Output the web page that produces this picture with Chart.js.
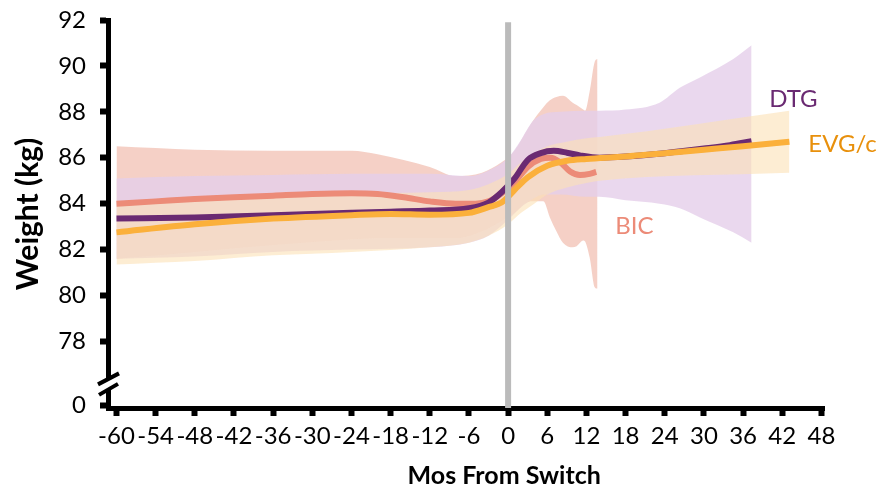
<!DOCTYPE html>
<html>
<head>
<meta charset="utf-8">
<script src="https://cdn.jsdelivr.net/npm/chart.js@4.4.1/dist/chart.umd.min.js"></script>
<style>
  html, body { margin: 0; padding: 0; background: #fff; }
  canvas { display: block; }
</style>
</head>
<body>
<canvas id="chart" width="879" height="490"></canvas>
<script>
// x axis: months from switch
const xTicks = [-60, -54, -48, -42, -36, -30, -24, -18, -12, -6, 0, 6, 12, 18, 24, 30, 36, 42, 48];
const xMin = -61.3;
const xMax = 48.4;
const xTitle = 'Mos From Switch';
const xTitleAt = -0.6;   // month value the title is centred on

// y axis (broken: 0 shown below 78)
const yTicks = [78, 80, 82, 84, 86, 88, 90, 92];
const yMin = 75.1;
const yMax = 92;
const yZeroAt = 75.23;   // where the "0" tick sits under the break
const yBreakAt = 76.15;  // centre of the axis break
const yTitle = 'Weight (kg)';

// switch marker
const switchX = 0;
const switchTop = 91.9;

// BIC
const bicX = [-60, -54, -48, -42, -36, -30, -24, -20, -16, -12, -8, -5, -3, -1, 1, 3, 5, 6.5, 8, 9.5, 11, 12.5, 13.5];
const bicMean = [84.0, 84.1, 84.2, 84.28, 84.35, 84.42, 84.45, 84.42, 84.28, 84.1, 84.0, 84.0, 84.1, 84.45, 84.95, 85.6, 85.95, 86.0, 85.8, 85.4, 85.25, 85.3, 85.38];
const bicBandX = [-60, -48, -36, -24, -20, -16, -12, -8, -4, -1, 1, 2.5, 3.8, 5.4, 6.4, 7.4, 8.4, 9.9, 10.5, 11.5, 11.8, 12.5, 13.3, 13.7];
const bicUpper = [86.5, 86.35, 86.3, 86.3, 86.15, 85.9, 85.6, 85.2, 85.35, 85.8, 86.3, 87.0, 87.6, 88.2, 88.5, 88.65, 88.7, 88.4, 88.3, 88.1, 88.05, 88.9, 90.2, 90.3];
const bicLower = [81.6, 81.9, 82.2, 82.45, 82.5, 82.5, 82.5, 82.5, 82.8, 83.25, 83.6, 84.0, 84.1, 84.1, 83.4, 82.8, 82.3, 82.1, 82.15, 82.4, 82.35, 81.65, 80.35, 80.3];

// DTG
const dtgX = [-60, -48, -36, -24, -18, -12, -6, -3, -1, 1, 3, 5, 7, 9, 11, 14, 18, 24, 30, 34, 37.3];
const dtgMean = [83.35, 83.4, 83.5, 83.6, 83.65, 83.7, 83.8, 84.05, 84.5, 85.1, 85.9, 86.2, 86.3, 86.22, 86.1, 86.0, 86.05, 86.2, 86.4, 86.55, 86.72];
const dtgBandX = [-60, -48, -36, -24, -12, -6, -3, 0, 1.8, 3.8, 5.4, 8, 12, 14, 18, 23.2, 26.3, 29.4, 34.5, 37.3];
const dtgUpper = [85.1, 85.2, 85.25, 85.3, 85.3, 85.2, 85.45, 86.0, 86.7, 87.6, 87.9, 88.0, 88.05, 88.05, 88.1, 88.4, 89.05, 89.5, 90.3, 90.9];
const dtgLower = [81.6, 81.7, 81.9, 82.0, 82.1, 82.3, 82.6, 83.3, 83.8, 84.2, 84.4, 84.4, 84.3, 84.3, 84.15, 84.0, 83.8, 83.4, 82.75, 82.3];

// EVG/c
const evgX = [-60, -48, -36, -24, -18, -12, -6, -3, -1, 0, 1, 3, 6, 9, 12, 18, 24, 30, 36, 43.1];
const evgMean = [82.75, 83.1, 83.35, 83.5, 83.55, 83.52, 83.6, 83.85, 84.05, 84.3, 84.6, 85.15, 85.65, 85.87, 85.95, 86.05, 86.2, 86.35, 86.5, 86.7];
const evgBandX = [-60, -48, -36, -24, -12, -6, -3, 0, 2, 4, 6, 9, 12, 14, 43.1];
const evgUpper = [83.9, 84.15, 84.35, 84.45, 84.5, 84.6, 84.85, 85.3, 85.8, 86.2, 86.5, 86.7, 86.85, 86.9, 88.05];
const evgLower = [81.35, 81.5, 81.75, 81.9, 82.1, 82.3, 82.6, 83.1, 83.6, 84.0, 84.4, 84.7, 84.9, 85.0, 85.35];

const seriesLabels = [
  { text: 'DTG', x: 40.0, y: 88.2, color: '#6a2a72' },
  { text: 'EVG/c', x: 46.0, y: 86.24, color: '#e8900c' },
  { text: 'BIC', x: 16.4, y: 82.67, color: '#ec8b78' }
];

const FONT = 'Lato';

const pts = (xs, ys) => xs.map((x, i) => ({ x: x, y: ys[i] }));

function band(xs, upper, lower, color, order) {
  return [{
    data: pts(xs, upper),
    borderWidth: 0,
    borderColor: 'rgba(0,0,0,0)',
    backgroundColor: color,
    fill: '+1',
    pointRadius: 0,
    cubicInterpolationMode: 'monotone',
    order: order
  }, {
    data: pts(xs, lower),
    borderWidth: 0,
    borderColor: 'rgba(0,0,0,0)',
    fill: false,
    pointRadius: 0,
    cubicInterpolationMode: 'monotone',
    order: order
  }];
}

function line(xs, ys, color, order) {
  return {
    data: pts(xs, ys),
    borderColor: color,
    borderWidth: 6,
    borderCapStyle: 'butt',
    fill: false,
    pointRadius: 0,
    cubicInterpolationMode: 'monotone',
    order: order
  };
}

const datasets = [
  ...band(bicBandX, bicUpper, bicLower, 'rgba(242,192,179,0.75)', 10),
  ...band(dtgBandX, dtgUpper, dtgLower, 'rgba(229,206,234,0.8)', 9),
  ...band(evgBandX, evgUpper, evgLower, 'rgba(252,225,182,0.6)', 8),
  line(bicX, bicMean, '#ec8b78', 4),
  line(dtgX, dtgMean, '#6a2a72', 3),
  line(evgX, evgMean, '#fbb03b', 2),
  {
    data: [{ x: switchX, y: yMin }, { x: switchX, y: switchTop }],
    borderColor: '#bbbbbb',
    borderWidth: 6,
    borderCapStyle: 'butt',
    pointRadius: 0,
    fill: false,
    order: 0
  }
];

// series names next to the curves + x axis title
const textPlugin = {
  id: 'texts',
  afterDraw(chart) {
    const { ctx, scales: { x, y } } = chart;
    ctx.save();
    ctx.font = '24px ' + FONT;
    ctx.textAlign = 'left';
    ctx.textBaseline = 'alphabetic';
    seriesLabels.forEach(l => {
      ctx.fillStyle = l.color;
      ctx.fillText(l.text, x.getPixelForValue(l.x), y.getPixelForValue(l.y));
    });
    ctx.font = 'bold 25px ' + FONT;
    ctx.fillStyle = '#000';
    ctx.textAlign = 'center';
    ctx.fillText(xTitle, x.getPixelForValue(xTitleAt), 484);
    ctx.restore();
  }
};

// white gap + two slashes on the y axis
const axisBreakPlugin = {
  id: 'axisBreak',
  afterDraw(chart) {
    const { ctx, chartArea, scales: { y } } = chart;
    const ax = chartArea.left;
    const yc = y.getPixelForValue(yBreakAt);
    ctx.save();
    ctx.fillStyle = '#fff';
    ctx.fillRect(ax - 5, yc - 5, 10, 11);
    ctx.strokeStyle = '#000';
    ctx.lineWidth = 4;
    ctx.beginPath();
    ctx.moveTo(ax - 10, yc + 0.5);
    ctx.lineTo(ax + 11, yc - 10.5);
    ctx.moveTo(ax - 9, yc + 11);
    ctx.lineTo(ax + 10, yc);
    ctx.stroke();
    ctx.restore();
  }
};

new Chart(document.getElementById('chart'), {
  type: 'line',
  data: { datasets: datasets },
  options: {
    responsive: false,
    animation: false,
    layout: { padding: { left: 0, right: 55, top: 20, bottom: 0 } },
    plugins: {
      legend: { display: false },
      tooltip: { enabled: false }
    },
    scales: {
      x: {
        type: 'linear',
        min: xMin,
        max: xMax,
        afterBuildTicks: s => { s.ticks = xTicks.map(v => ({ value: v })); },
        afterFit: s => { s.height = 82; s.paddingLeft = 0; s.paddingRight = 0; },
        ticks: {
          autoSkip: false,
          maxRotation: 0,
          color: '#000',
          padding: 6,
          font: { family: FONT, size: 24 },
          callback: v => String(v)
        },
        grid: { drawOnChartArea: false, drawTicks: true, tickLength: 8, tickWidth: 6, tickColor: '#000' },
        border: { display: true, width: 5, color: '#000' }
      },
      y: {
        type: 'linear',
        min: yMin,
        max: yMax,
        afterBuildTicks: s => { s.ticks = [yZeroAt, ...yTicks].map(v => ({ value: v })); },
        afterFit: s => { s.width = 108; s.paddingTop = 0; s.paddingBottom = 0; },
        ticks: {
          autoSkip: false,
          color: '#000',
          padding: 14,
          font: { family: FONT, size: 24 },
          callback: v => (v === yZeroAt ? '0' : String(v))
        },
        grid: { drawOnChartArea: false, drawTicks: true, tickLength: 8, tickWidth: 6, tickColor: '#000' },
        border: { display: true, width: 5, color: '#000' },
        title: {
          display: true,
          text: yTitle,
          color: '#000',
          font: { family: FONT, size: 30, weight: 'bold' },
          padding: { top: 10, bottom: 0 }
        }
      }
    }
  },
  plugins: [textPlugin, axisBreakPlugin]
});
</script>
</body>
</html>
